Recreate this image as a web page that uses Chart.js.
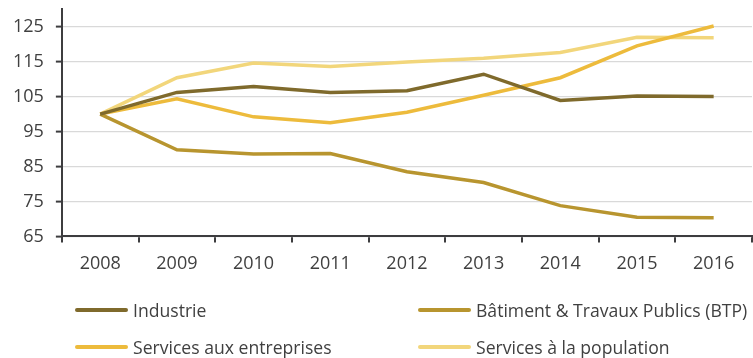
<!DOCTYPE html>
<html>
<head>
<meta charset="utf-8">
<script src="https://cdn.jsdelivr.net/npm/chart.js@4/dist/chart.umd.min.js"></script>
<style>
  html, body { margin: 0; padding: 0; background: #ffffff; }
  #wrap { position: relative; width: 753px; height: 358px; overflow: hidden; }
  #chartBox { position: absolute; left: 0; top: -10px; width: 753px; height: 296px; }
  #legend { position: absolute; left: 0; top: 0; width: 753px; height: 358px; pointer-events: none;
    font-family: "Open Sans", sans-serif; font-size: 17.6px; color: #404040; }
  .item { position: absolute; display: flex; align-items: center; white-space: nowrap; }
  .swatch { display: inline-block; width: 53px; height: 4px; margin-right: 5px; border-radius: 2px; }
</style>
</head>
<body>
<div id="wrap">
  <div id="chartBox"><canvas id="c"></canvas></div>
  <div id="legend"></div>
</div>
<script>
const categories = ["2008", "2009", "2010", "2011", "2012", "2013", "2014", "2015", "2016"];
const seriesNames = ["Industrie", "Bâtiment & Travaux Publics (BTP)", "Services aux entreprises", "Services à la population"];
const industrie = [100, 106.2, 107.9, 106.2, 106.7, 111.4, 103.9, 105.2, 105.0];
const btp = [100, 89.8, 88.6, 88.7, 83.5, 80.4, 73.8, 70.5, 70.3];
const servicesEntreprises = [100, 104.4, 99.2, 97.5, 100.5, 105.4, 110.4, 119.5, 125.2];
const servicesPopulation = [100, 110.4, 114.6, 113.6, 114.9, 116.0, 117.6, 122.0, 121.8];
const yTickValues = [65, 75, 85, 95, 105, 115, 125];

const colors = ["#7f6a2c", "#b8952f", "#edbb3c", "#f2d67b"];
const values = [industrie, btp, servicesEntreprises, servicesPopulation];

const FONT = { family: "'Open Sans', sans-serif", size: 18 };
const YFONT = { family: "'Open Sans', sans-serif", size: 18, lineHeight: 0.8 };
const TEXT = "#404040";
const AXIS = "#3d3d3f";

const datasets = seriesNames.map((name, i) => ({
  label: name,
  data: values[i],
  borderColor: colors[i],
  backgroundColor: colors[i],
  borderWidth: 3.5,
  pointRadius: 0,
  tension: 0,
  fill: false
}));

const chart = new Chart(document.getElementById("c"), {
  type: "line",
  data: { labels: categories, datasets },
  options: {
    responsive: true,
    maintainAspectRatio: false,
    animation: false,
    layout: { padding: { left: 1, right: 1, top: 1, bottom: 0 } },
    plugins: { legend: { display: false }, tooltip: { enabled: false } },
    scales: {
      x: {
        offset: true,
        grid: { display: true, offset: true, drawOnChartArea: false, drawTicks: true, tickLength: 6, color: AXIS, lineWidth: 2 },
        border: { display: true, color: AXIS, width: 2 },
        ticks: { color: TEXT, font: FONT, padding: 11, maxRotation: 0, autoSkip: false }
      },
      y: {
        min: 65,
        max: 130,
        afterBuildTicks: (axis) => { axis.ticks = yTickValues.map(v => ({ value: v })); },
        grid: { color: "#d9d9d9", lineWidth: 1.2, tickLength: 6, tickColor: AXIS, tickWidth: 2 },
        border: { display: true, color: AXIS, width: 2 },
        ticks: { color: TEXT, font: YFONT, padding: 12 }
      }
    }
  }
});

// HTML legend built from the chart's datasets
const legendPos = [
  { left: 75, top: 310 },
  { left: 418, top: 310 },
  { left: 75, top: 347 },
  { left: 418, top: 347 }
];
const legendEl = document.getElementById("legend");
chart.data.datasets.forEach((ds, i) => {
  const item = document.createElement("div");
  item.className = "item";
  item.style.left = legendPos[i].left + "px";
  item.style.top = (legendPos[i].top - 12) + "px";
  item.style.height = "24px";
  const sw = document.createElement("span");
  sw.className = "swatch";
  sw.style.background = ds.borderColor;
  const tx = document.createElement("span");
  tx.textContent = ds.label;
  item.appendChild(sw);
  item.appendChild(tx);
  legendEl.appendChild(item);
});
</script>
</body>
</html>
